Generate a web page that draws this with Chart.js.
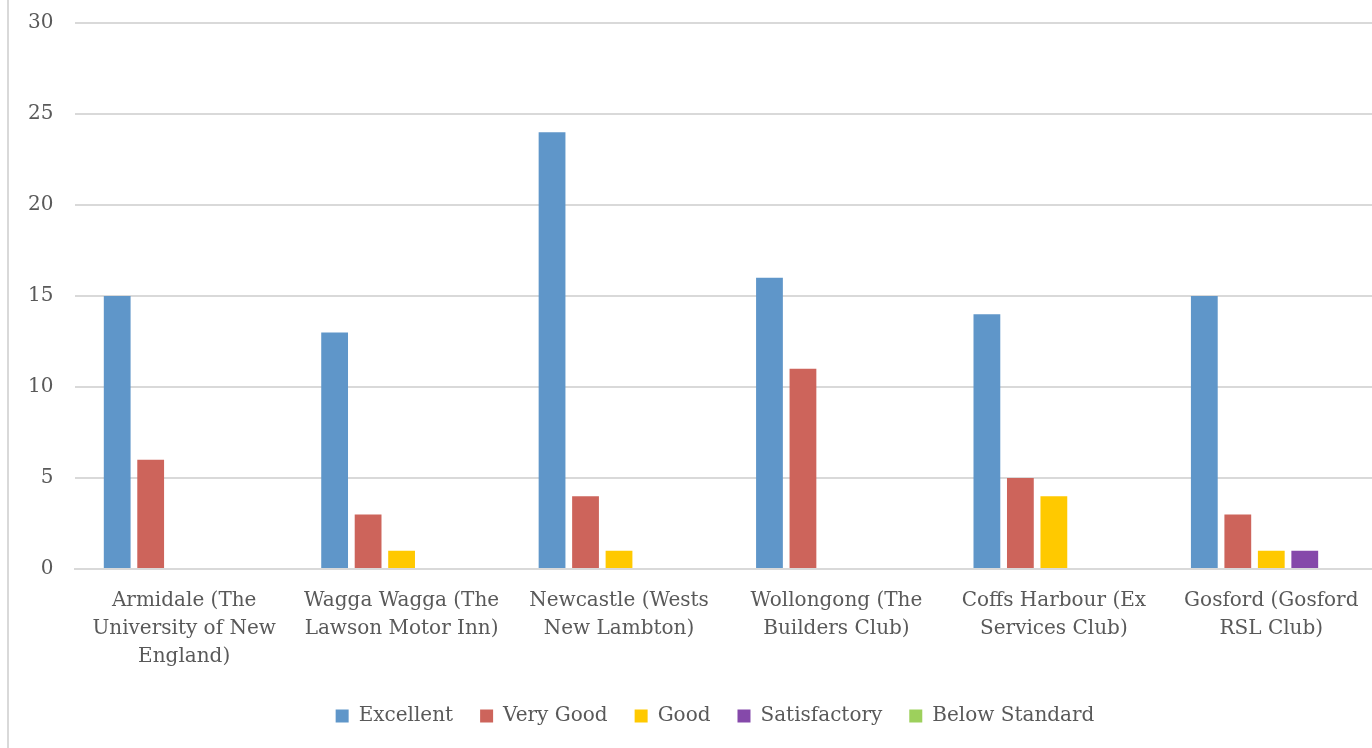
<!DOCTYPE html>
<html>
<head>
<meta charset="utf-8">
<script src="https://cdn.jsdelivr.net/npm/chart.js@4/dist/chart.umd.min.js"></script>
<style>
  html, body { margin: 0; padding: 0; background: #fff; overflow: hidden; }
  #frame { position: absolute; left: 0; top: 0; width: 1372px; height: 748px; overflow: hidden; }
  #edge { position: absolute; left: 7px; top: 0; width: 2px; height: 748px; background: #d9d9d9; }
  #wrap { position: absolute; left: 0; top: 0; width: 1392px; height: 748px; }
</style>
</head>
<body>
<div id="frame">
  <div id="wrap"><canvas id="c"></canvas></div>
  <div id="edge"></div>
</div>
<script>
const venues = [
  ["Armidale (The", "University of New", "England)"],
  ["Wagga Wagga (The", "Lawson Motor Inn)"],
  ["Newcastle (Wests", "New Lambton)"],
  ["Wollongong (The", "Builders Club)"],
  ["Coffs Harbour (Ex", "Services Club)"],
  ["Gosford (Gosford", "RSL Club)"]
];
const excellent     = [15, 13, 24, 16, 14, 15];
const veryGood      = [6, 3, 4, 11, 5, 3];
const good          = [0, 1, 1, 0, 4, 1];
const satisfactory  = [0, 0, 0, 0, 0, 1];
const belowStandard = [0, 0, 0, 0, 0, 0];
const yTicks = [0, 5, 10, 15, 20, 25, 30];

const textColor = '#595959';
const gridColor = '#d9d9d9';
const fontFamily = '"DejaVu Serif", serif';

const series = [
  { label: 'Excellent',      data: excellent,     color: '#5f96c9' },
  { label: 'Very Good',      data: veryGood,      color: '#cd645b' },
  { label: 'Good',           data: good,          color: '#ffc900' },
  { label: 'Satisfactory',   data: satisfactory,  color: '#8549aa' },
  { label: 'Below Standard', data: belowStandard, color: '#9dd05c' }
];

// Nudge the legend row closer to the category labels and a bit to the right.
const legendNudge = {
  id: 'legendNudge',
  afterLayout(chart) {
    const lg = chart.legend;
    if (!lg) return;
    lg.top -= 10; lg.bottom -= 10;
    lg.left += 11; lg.right += 11;
  }
};

new Chart(document.getElementById('c'), {
  type: 'bar',
  data: {
    labels: venues,
    datasets: series.map(s => ({
      label: s.label,
      data: s.data,
      backgroundColor: s.color,
      borderWidth: 0,
      categoryPercentage: 0.77,
      barPercentage: 0.8
    }))
  },
  plugins: [legendNudge],
  options: {
    responsive: true,
    maintainAspectRatio: false,
    animation: false,
    layout: { padding: { left: 28, right: 12, top: 23, bottom: 2 } },
    plugins: {
      tooltip: { enabled: false },
      legend: {
        position: 'bottom',
        labels: {
          boxWidth: 13,
          boxHeight: 13,
          padding: 27,
          color: textColor,
          font: { family: fontFamily, size: 20 }
        }
      }
    },
    scales: {
      x: {
        grid: { display: false, drawTicks: false },
        border: { display: true, color: gridColor, width: 2 },
        ticks: {
          color: textColor,
          padding: 18,
          maxRotation: 0,
          autoSkip: false,
          font: { family: fontFamily, size: 20, lineHeight: 1.4 }
        }
      },
      y: {
        min: 0,
        max: 30,
        afterBuildTicks: axis => { axis.ticks = yTicks.map(v => ({ value: v })); },
        grid: { color: gridColor, lineWidth: 2, drawTicks: true, tickLength: 22, tickColor: 'rgba(0,0,0,0)' },
        border: { display: false },
        ticks: {
          color: textColor,
          padding: 0,
          font: { family: fontFamily, size: 20 }
        }
      }
    }
  }
});
</script>
</body>
</html>
